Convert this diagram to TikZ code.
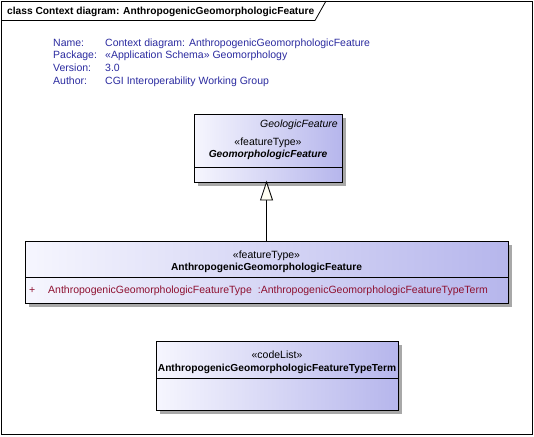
\documentclass[tikz,border=0pt]{standalone}
\usepackage{fontspec}
\setmainfont{Liberation Sans}
\usetikzlibrary{shadows}
\definecolor{boxL}{HTML}{F6F6FE}
\definecolor{boxR}{HTML}{B6B6EC}
\definecolor{shadowgray}{HTML}{A8A8A8}
\definecolor{hdrblue}{HTML}{2B2BA0}
\definecolor{attrred}{HTML}{8E1030}
\tikzset{
  umlbox/.style={draw=black, line width=0.8pt, left color=boxL, right color=boxR,
    drop shadow={shadow xshift=3.5pt, shadow yshift=-3.5pt, fill=shadowgray, opacity=1},
    inner sep=0pt},
  reg/.style={font=\fontsize{10.5}{12}\selectfont, inner sep=0pt},
  bld/.style={font=\fontsize{10.2}{12}\selectfont\bfseries, inner sep=0pt},
  hdr/.style={reg, text=hdrblue, anchor=base west},
  divider/.style={draw=black, line width=0.8pt},
  genarrow/.style={draw=black, line width=0.8pt},
}
\begin{document}
\begin{tikzpicture}[x=1pt, y=-1pt]
\useasboundingbox (0,0) rectangle (534,436);
\fill[white] (0,0) rectangle (534,436);
% frame
\draw[line width=0.8pt] (1,1) rectangle (532,434);
\draw[line width=0.8pt] (1,20.5) -- (315,20.5) -- (326,1);
\node[bld, anchor=base west] (title) at (7,15) {class Context diagram: AnthropogenicGeomorphologicFeature};
% header
\node[hdr] (nameL) at (53,46) {Name:};
\node[hdr] (pkgL) at (53,59) {Package:};
\node[hdr] (verL) at (53,71.5) {Version:};
\node[hdr] (autL) at (53,84.5) {Author:};
\node[hdr] (nameV) at (105,46) {Context diagram: AnthropogenicGeomorphologicFeature};
\node[hdr] (pkgV) at (105,59) {«Application Schema» Geomorphology};
\node[hdr] (verV) at (105,71.5) {3.0};
\node[hdr] (autV) at (105,84.5) {CGI Interoperability Working Group};
% top box
\node[umlbox, minimum width=148pt, minimum height=68pt] (geo) at (268,148) {};
\draw[divider] (194,167) -- (342,167);
\node[reg, anchor=base east, font=\fontsize{10.5}{12}\selectfont\itshape] (geoParent) at (338,127) {GeologicFeature};
\node[reg, anchor=base] (geoSt) at (268,145.5) {«featureType»};
\node[bld, anchor=base, font=\fontsize{10.2}{12}\selectfont\bfseries\itshape] (geoName) at (268,157.5) {GeomorphologicFeature};
% middle box
\node[umlbox, minimum width=483pt, minimum height=62pt] (anth) at (266.5,272) {};
\draw[divider] (25,277) -- (508,277);
\node[reg, anchor=base] (anthSt) at (266.5,258) {«featureType»};
\node[bld, anchor=base] (anthName) at (266.5,270.5) {AnthropogenicGeomorphologicFeature};
\node[reg, anchor=base west, text=attrred] (attrPlus) at (29,293.5) {+};
\node[reg, anchor=base west, text=attrred] (attr) at (48,293.5) {AnthropogenicGeomorphologicFeatureType\hspace{6pt}:AnthropogenicGeomorphologicFeatureTypeTerm};
% bottom box
\node[umlbox, minimum width=242pt, minimum height=69pt] (term) at (277,375.5) {};
\draw[divider] (156,378) -- (398,378);
\node[reg, anchor=base] (termSt) at (277,358) {«codeList»};
\node[bld, anchor=base] (termName) at (277,371) {AnthropogenicGeomorphologicFeatureTypeTerm};
% generalization
\coordinate (tip) at (geo.south -| 266.5,0);
\draw[genarrow] (anth.north) -- (266.5,200);
\draw[genarrow, fill=white!95!yellow] (266.5,182) -- (272.5,200) -- (260.5,200) -- cycle;
\end{tikzpicture}
\end{document}
